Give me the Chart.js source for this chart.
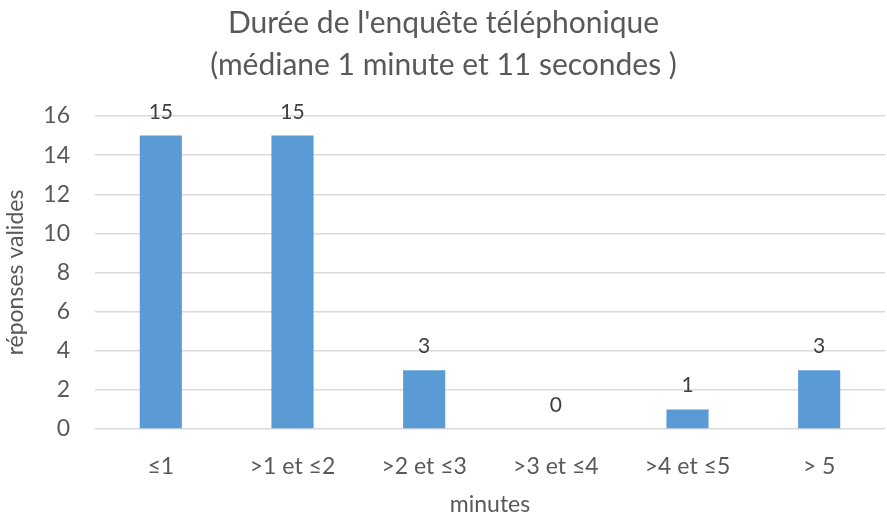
<!DOCTYPE html>
<html><head><meta charset="utf-8">
<script src="https://cdn.jsdelivr.net/npm/chart.js@4/dist/chart.umd.min.js"></script>
<style>html,body{margin:0;padding:0;background:#fff}#wrap{width:887px;height:513px}</style>
</head><body><div id="wrap"><canvas id="c"></canvas></div>
<script>
const categories = ['≤1', '>1 et ≤2', '>2 et ≤3', '>3 et ≤4', '>4 et ≤5', '> 5'];
const responses = [15, 15, 3, 0, 1, 3];
const titleLines = ["Durée de l'enquête téléphonique", "(médiane 1 minute et 11 secondes )"];
const yTitle = 'réponses valides';
const xTitle = 'minutes';

const FONT = 'Lato, "Noto Sans", sans-serif';
const labelPlugin = {
  id: 'vals',
  afterDatasetsDraw(chart) {
    const ctx = chart.ctx;
    const meta = chart.getDatasetMeta(0);
    ctx.save();
    ctx.fillStyle = '#404040';
    ctx.font = '21px ' + FONT;
    ctx.textAlign = 'center';
    ctx.textBaseline = 'alphabetic';
    meta.data.forEach((el, i) => {
      ctx.fillText(String(chart.data.datasets[0].data[i]), el.x, el.y - 17);
    });
    ctx.restore();
  }
};

new Chart(document.getElementById('c'), {
  type: 'bar',
  data: { labels: categories, datasets: [{ data: responses, backgroundColor: '#5b9bd5', categoryPercentage: 1, barPercentage: 0.32 }] },
  options: {
    responsive: true, maintainAspectRatio: false, animation: false,
    layout: { padding: { left: 2, right: 2, top: 2, bottom: 0 } },
    plugins: {
      legend: { display: false }, tooltip: { enabled: false },
      title: { display: true, text: titleLines, color: '#595959', font: { family: FONT, size: 30, weight: 'normal', lineHeight: 1.4 }, padding: { top: 0, bottom: 30 } }
    },
    scales: {
      x: {
        afterFit(s) { s.height = 84; },
        grid: { display: false }, border: { display: false },
        ticks: { color: '#595959', font: { family: FONT, size: 23 }, padding: 16 },
        title: { display: true, text: xTitle, color: '#595959', font: { family: FONT, size: 23 }, padding: { top: 4, bottom: -5 } }
      },
      y: {
        afterFit(s) { s.width = 93; },
        min: 0, max: 16,
        grid: { color: '#d9d9d9', lineWidth: 1.5, drawTicks: false }, border: { display: false },
        ticks: { stepSize: 2, color: '#595959', font: { family: FONT, size: 23 }, padding: 25 },
        title: { display: true, text: yTitle, color: '#595959', font: { family: FONT, size: 23 }, padding: { top: 0, bottom: 2 } }
      }
    }
  },
  plugins: [labelPlugin]
});
</script></body></html>
